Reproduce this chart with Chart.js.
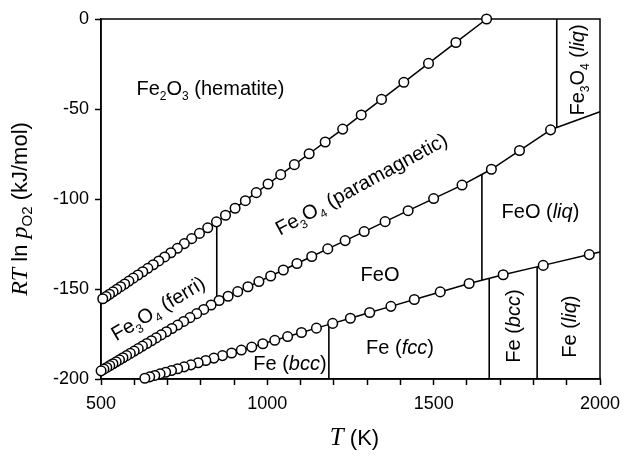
<!DOCTYPE html>
<html><head><meta charset="utf-8">
<script src="https://cdn.jsdelivr.net/npm/chart.js@4/dist/chart.umd.min.js"></script>
<style>html,body{margin:0;padding:0;background:#fff}</style>
</head><body>
<canvas id="c" width="624" height="460"></canvas>
<script>
// ---- data ----
// Fe2O3 / Fe3O4 equilibrium
const hemT = [1659.0,1566.9,1484.5,1410.3,1343.2,1282.2,1226.5,1173.9,1125.7,1081.3,1040.2,1002.2,966.8,933.9,903.1,874.3,847.2,820.8,795.9,772.5,750.5,729.7,710.0,691.3,673.6,656.8,640.8,625.5,611.0,597.1,583.8,571.2,559.0,547.4,536.2,525.5,515.2,505.3];
const hemY = [0,-13.03,-24.68,-35.18,-44.67,-53.30,-61.18,-68.32,-74.87,-80.91,-86.48,-91.66,-96.46,-100.94,-105.12,-109.03,-112.70,-116.01,-119.11,-122.03,-124.79,-127.40,-129.86,-132.19,-134.41,-136.51,-138.51,-140.41,-142.24,-143.96,-145.61,-147.22,-148.72,-150.18,-151.57,-152.92,-154.21,-155.44];
// Fe3O4 / FeO (Fe) equilibrium
const magT = [1851.4,1758.0,1673.5,1585.3,1499.9,1423.2,1354.0,1291.2,1233.9,1181.6,1133.5,1089.1,1048.1,1010.1,974.7,941.7,910.9,882.1,855.0,830.9,808.7,787.6,767.5,748.5,730.4,713.1,696.6,680.9,665.9,651.5,637.7,624.5,611.9,599.7,588.0,576.8,565.9,555.5,545.5,535.8,526.4,517.4,508.7,500.3];
const magY = [-61.57,-73.08,-83.48,-92.26,-99.76,-106.49,-112.57,-118.09,-123.10,-127.71,-131.93,-135.82,-139.42,-142.76,-145.87,-148.76,-151.46,-154.01,-156.38,-158.89,-161.36,-163.70,-165.91,-168.02,-170.03,-171.94,-173.74,-175.49,-177.16,-178.74,-180.27,-181.72,-183.14,-184.48,-185.77,-187.03,-188.20,-189.36,-190.48,-191.54,-192.58,-193.57,-194.54,-195.47];
// FeO / Fe equilibrium
const wusT = [1967.8,1829.3,1709.0,1606.6,1519.7,1441.8,1371.5,1307.7,1249.6,1196.4,1147.6,1102.6,1061.0,1022.4,986.5,953.1,921.8,892.6,865.1,839.3,815.0,792.0,770.3,749.8,730.3,711.8,694.2,677.5,661.6,646.3,631.8];
const wusY = [-130.88,-136.88,-142.09,-146.93,-151.62,-155.83,-159.64,-163.08,-166.23,-169.10,-171.74,-174.17,-176.42,-178.50,-180.44,-182.25,-183.93,-185.53,-187.00,-188.40,-189.73,-190.96,-192.13,-193.25,-194.29,-195.29,-196.23,-197.15,-198.02,-198.81,-199.61];
// unmarked continuations to the right edge
const magExtT = [1851.4, 2000];
const magExtY = [-61.57, -51.5];
const wusExtT = [1967.8, 2000];
const wusExtY = [-130.88, -129.49];
// vertical phase boundaries
const bndT    = [848, 1185, 1645, 1667, 1811, 1870];
const bndLow  = [-157.1, -200, -145.0, -200, -200, -60.31];
const bndHigh = [-112.7, -169.72, -86.3, -144.08, -137.67, 0];
// axis ticks
const xMin = 500, xMax = 2000, xStep = 100, xLabelEvery = 500;
const yMin = -200, yMax = 0, yStep = 50;
// region labels (data coordinates)
const regionText = ['Fe_2O_3 (hematite)','Fe_3O_4 (paramagnetic)','Fe_3O_4 (ferri)','FeO (*liq*)','FeO','Fe (*fcc*)','Fe (*bcc*)','Fe (*bcc*)','Fe (*liq*)','Fe_3O_4 (*liq*)'];
const regionT   = [829, 1282, 671, 1821, 1338.7, 1398.8, 1068, 1737.6, 1907.7, 1930];
const regionY   = [-38.3, -91.5, -160.6, -106.5, -141.7, -182.2, -190.9, -170.6, -170.9, -28.3];
const regionRot = [0, -28.5, -31, 0, 0, 0, 0, -90, -90, -90];

// ---- build ----
const SANS = '"Liberation Sans", Arial, sans-serif';
const SERIF = '"Liberation Serif", "Times New Roman", serif';
const pts = (xs, ys) => xs.map((x, i) => ({x, y: ys[i]}));
const markerSet = (xs, ys) => ({
  data: pts(xs, ys), borderColor: '#000', borderWidth: 1.5, showLine: true,
  pointRadius: 4.8, pointBorderWidth: 1.5, pointBackgroundColor: '#fff', pointBorderColor: '#000',
  pointHoverRadius: 4.8, clip: false, order: 1, tension: 0
});
const plainSet = (xs, ys, w) => ({
  data: pts(xs, ys), borderColor: '#000', borderWidth: w, showLine: true,
  pointRadius: 0, pointHoverRadius: 0, clip: false, order: 5
});
const datasets = [
  markerSet(hemT, hemY), markerSet(magT, magY), markerSet(wusT, wusY),
  plainSet(magExtT, magExtY, 1.5), plainSet(wusExtT, wusExtY, 1.5)
];
bndT.forEach((t, i) => datasets.push(plainSet([t, t], [bndLow[i], bndHigh[i]], 1.6)));

function parseRich(s, size, baseFam) {
  const out = []; let it = false;
  for (let i = 0; i < s.length; i++) {
    const c = s[i];
    if (c === '*') { it = !it; continue; }
    if (c === '_') { out.push({t: s[++i], font: (it?'italic ':'') + Math.round(size*0.62) + 'px ' + baseFam, dy: size*0.26}); continue; }
    out.push({t: c, font: (it?'italic ':'') + size + 'px ' + baseFam, dy: 0});
  }
  return out;
}
function drawRich(ctx, parts, x, y, deg, capH) {
  ctx.save();
  ctx.translate(x, y); ctx.rotate(deg * Math.PI / 180);
  ctx.textBaseline = 'alphabetic'; ctx.textAlign = 'left'; ctx.fillStyle = '#000';
  let W = 0;
  parts.forEach(p => { ctx.font = p.font; p.w = ctx.measureText(p.t).width; W += p.w; });
  let cx = -W / 2;
  parts.forEach(p => { ctx.font = p.font; ctx.fillText(p.t, cx, capH / 2 + p.dy); cx += p.w; });
  ctx.restore();
}

const decor = {
  id: 'decor',
  beforeDatasetsDraw(chart) {
    const {ctx, chartArea: a} = chart;
    ctx.save(); ctx.strokeStyle = '#000'; ctx.lineWidth = 1.5;
    ctx.strokeRect(a.left, a.top, a.right - a.left, a.bottom - a.top);
    ctx.restore();
  },
  afterDatasetsDraw(chart) {
    const {ctx, scales: {x, y}} = chart;
    regionText.forEach((s, i) => {
      drawRich(ctx, parseRich(s, 20, SANS), x.getPixelForValue(regionT[i]), y.getPixelForValue(regionY[i]), regionRot[i], 14);
    });
  },
  afterDraw(chart) {
    const {ctx, chartArea: a} = chart;
    // x title
    drawRich(ctx, [
      {t: 'T', font: 'italic 25px ' + SERIF, dy: 0},
      {t: ' (K)', font: '22px ' + SANS, dy: 0}
    ], (a.left + a.right) / 2 + 4, 437, 0, 16);
    // y title
    drawRich(ctx, [
      {t: 'RT', font: 'italic 24px ' + SERIF, dy: 0},
      {t: ' ln ', font: '22px ' + SANS, dy: 0},
      {t: 'p', font: 'italic 24px ' + SERIF, dy: 0},
      {t: 'O2', font: '15px ' + SANS, dy: 5},
      {t: ' (kJ/mol)', font: '22px ' + SANS, dy: 0}
    ], 19, 209, -90, 16);
  }
};

new Chart(document.getElementById('c'), {
  type: 'scatter',
  data: {datasets},
  options: {
    responsive: false, animation: false, devicePixelRatio: 1,
    layout: {padding: {left: 0, right: 24, top: 19, bottom: 0}},
    plugins: {legend: {display: false}, tooltip: {enabled: false}},
    scales: {
      x: {
        type: 'linear', min: xMin, max: xMax,
        ticks: {stepSize: xStep, autoSkip: false, maxRotation: 0, color: '#000', padding: 8,
          font: {family: SANS, size: 18},
          callback: v => (v % xLabelEvery === 0 ? String(v) : '')},
        grid: {drawOnChartArea: false, drawTicks: true, tickLength: 6, tickColor: '#000', tickWidth: 1.5},
        border: {display: true, color: '#000', width: 1.5},
        afterFit: s => { s.height = 81; s.paddingLeft = 0; s.paddingRight = 0; }
      },
      y: {
        type: 'linear', min: yMin, max: yMax,
        ticks: {stepSize: yStep, color: '#000', padding: 6, font: {family: SANS, size: 18}},
        grid: {drawOnChartArea: false, drawTicks: true, tickLength: 6, tickColor: '#000', tickWidth: 1.5},
        border: {display: true, color: '#000', width: 1.5},
        afterFit: s => { s.width = 101; s.paddingTop = 0; s.paddingBottom = 0; }
      }
    }
  },
  plugins: [decor]
});
</script>
</body></html>
